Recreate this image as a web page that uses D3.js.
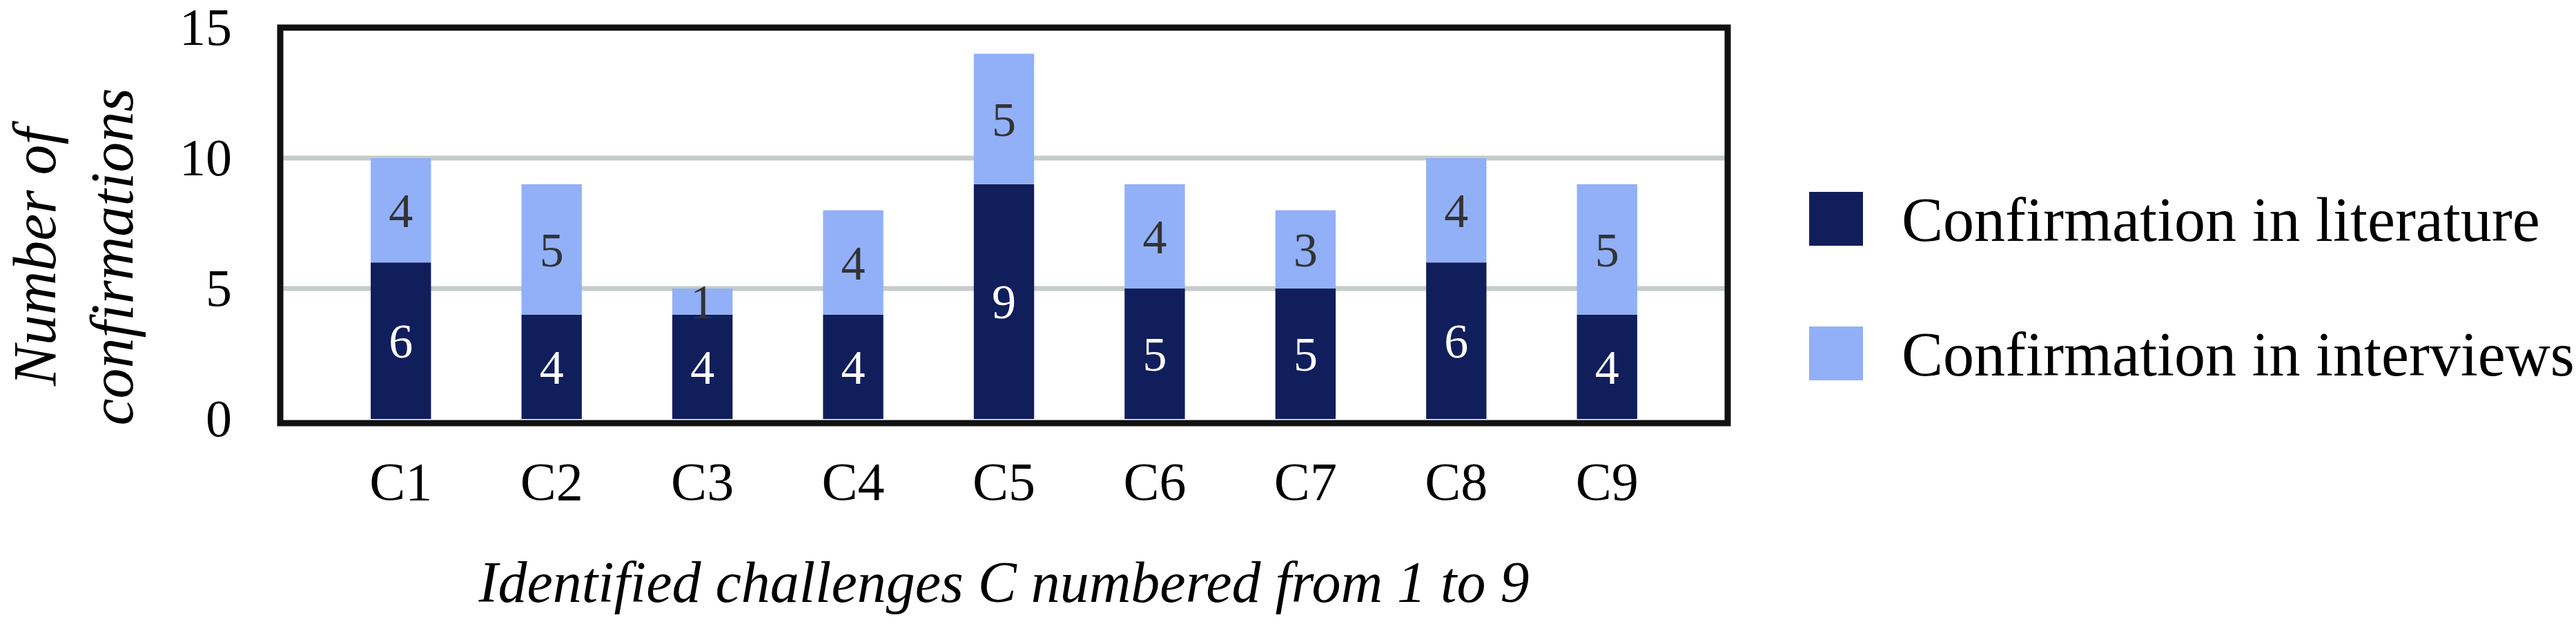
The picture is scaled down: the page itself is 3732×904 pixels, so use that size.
<!DOCTYPE html>
<html>
<head>
<meta charset="utf-8">
<script src="https://cdn.jsdelivr.net/npm/d3@7"></script>
<style>
  body { margin: 0; background: #fff; }
</style>
</head>
<body>
<div id="chart"></div>
<script>
// Data
var categories = ["C1", "C2", "C3", "C4", "C5", "C6", "C7", "C8", "C9"];
var literature = [6, 4, 4, 4, 9, 5, 5, 6, 4];
var interviews = [4, 5, 1, 4, 5, 4, 3, 4, 5];
var yTicks = [0, 5, 10, 15];
var seriesNames = ["Confirmation in literature", "Confirmation in interviews"];
var colors = ["#111e5c", "#91b0f8"];

var serif = "'Liberation Serif', 'Times New Roman', serif";

var svgWidth = 3732, svgHeight = 904;
var margin = { top: 40, left: 406, right: 1229, bottom: 297 };
var chartWidth = svgWidth - margin.left - margin.right;
var chartHeight = svgHeight - margin.top - margin.bottom;

var svg = d3.select("#chart").append("svg")
  .attr("width", svgWidth)
  .attr("height", svgHeight);

var chartGroup = svg.append("g")
  .attr("transform", `translate(${margin.left}, ${margin.top})`);

var x = d3.scaleBand().domain(categories).range([0, chartWidth]).padding(0.6);
var y = d3.scaleLinear().domain([0, 15]).range([chartHeight, 0]);

// gridlines
chartGroup.selectAll(".grid")
  .data(yTicks.filter(d => d > 0 && d < 15))
  .enter().append("line")
  .attr("x1", 0).attr("x2", chartWidth)
  .attr("y1", d => y(d)).attr("y2", d => y(d))
  .attr("stroke", "#c5ccc9").attr("stroke-width", 7);

var rows = categories.map((c, i) => ({ c: c, lit: literature[i], int: interviews[i] }));

// literature bars
chartGroup.selectAll(".lit").data(rows).enter().append("rect")
  .attr("x", d => x(d.c)).attr("width", x.bandwidth())
  .attr("y", d => y(d.lit)).attr("height", d => y(0) - y(d.lit))
  .attr("fill", colors[0]);

// interview bars
chartGroup.selectAll(".int").data(rows).enter().append("rect")
  .attr("x", d => x(d.c)).attr("width", x.bandwidth())
  .attr("y", d => y(d.lit + d.int)).attr("height", d => y(d.lit) - y(d.lit + d.int))
  .attr("fill", colors[1]);

// value labels
chartGroup.selectAll(".litLabel").data(rows).enter().append("text")
  .attr("x", d => x(d.c) + x.bandwidth() / 2)
  .attr("y", d => y(d.lit / 2)).attr("dy", "0.35em")
  .attr("text-anchor", "middle").attr("font-size", 70).attr("fill", "#fff")
  .style("font-family", serif)
  .text(d => d.lit);

chartGroup.selectAll(".intLabel").data(rows).enter().append("text")
  .attr("x", d => x(d.c) + x.bandwidth() / 2)
  .attr("y", d => y(d.lit + d.int / 2)).attr("dy", "0.35em")
  .attr("text-anchor", "middle").attr("font-size", 70).attr("fill", "#333")
  .style("font-family", serif)
  .text(d => d.int);

// frame
chartGroup.append("rect")
  .attr("x", 0).attr("y", 0).attr("width", chartWidth).attr("height", chartHeight + 6)
  .attr("fill", "none").attr("stroke", "#111").attr("stroke-width", 9);

// y axis
var yAxis = chartGroup.append("g").call(d3.axisLeft(y).tickValues(yTicks).tickSize(0).tickPadding(70));
yAxis.select(".domain").remove();
yAxis.selectAll("text").attr("font-size", 76).attr("fill", "#000")
  .style("font-family", serif);

// x axis
var xAxis = chartGroup.append("g")
  .attr("transform", `translate(0, ${chartHeight})`)
  .call(d3.axisBottom(x).tickSize(0).tickPadding(62));
xAxis.select(".domain").remove();
xAxis.selectAll("text").attr("font-size", 78).attr("fill", "#000")
  .style("font-family", serif);

// axis titles
svg.append("text")
  .attr("x", margin.left + chartWidth / 2).attr("y", 872)
  .attr("text-anchor", "middle").attr("font-size", 84).attr("font-style", "italic")
  .style("font-family", serif)
  .text("Identified challenges C numbered from 1 to 9");

var yTitle = svg.append("text")
  .attr("transform", "translate(0, 372) rotate(-90)")
  .attr("text-anchor", "middle").attr("font-size", 88).attr("font-style", "italic")
  .style("font-family", serif);
yTitle.append("tspan").attr("x", 0).attr("y", 80).text("Number of");
yTitle.append("tspan").attr("x", 0).attr("y", 192).text("confirmations");

// legend
var legend = svg.selectAll(".legend").data(seriesNames).enter().append("g")
  .attr("transform", (d, i) => `translate(2621, ${278 + i * 195})`);
legend.append("rect").attr("width", 78).attr("height", 78).attr("fill", (d, i) => colors[i]);
legend.append("text").attr("x", 134).attr("y", 39).attr("dy", "0.35em")
  .attr("font-size", 90).style("font-family", serif).text(d => d);
</script>
</body>
</html>
